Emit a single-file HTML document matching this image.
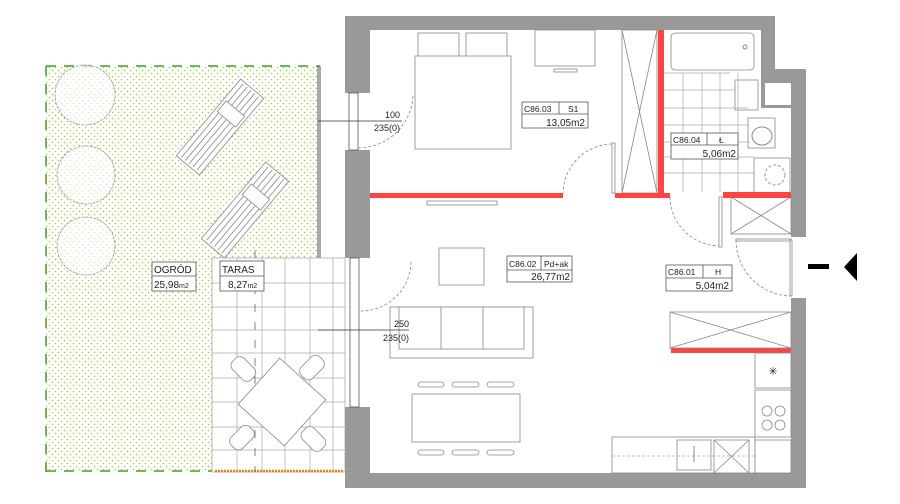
<!DOCTYPE html>
<html><head><meta charset="utf-8"><style>
html,body{margin:0;padding:0;background:#fff;width:900px;height:504px;overflow:hidden}
svg{display:block}
text{font-family:"Liberation Sans",sans-serif;fill:#222}
</style></head><body>
<svg width="900" height="504" viewBox="0 0 900 504" xmlns="http://www.w3.org/2000/svg">
<defs>
<pattern id="dots" width="6" height="6" patternUnits="userSpaceOnUse">
<circle cx="1.5" cy="1.5" r="0.8" fill="#9cc75a"/><circle cx="4.5" cy="4.5" r="0.8" fill="#9cc75a"/>
</pattern>
</defs>
<!-- garden -->
<rect x="46" y="66" width="272" height="406" fill="url(#dots)"/>
<rect x="318" y="66" width="27" height="192" fill="#fff"/>
<line x1="46" y1="66" x2="320" y2="66" stroke="#4a9a2a" stroke-width="1.5" stroke-dasharray="10,8"/>
<line x1="46" y1="66" x2="46" y2="472" stroke="#4a9a2a" stroke-width="1.5" stroke-dasharray="10,8"/>
<line x1="46" y1="471" x2="212" y2="471" stroke="#4a9a2a" stroke-width="1.5" stroke-dasharray="10,8"/>
<line x1="318" y1="66" x2="318" y2="258" stroke="#555" stroke-width="1"/>
<line x1="320" y1="66" x2="320" y2="258" stroke="#555" stroke-width="1"/>
<!-- trees -->
<g fill="#fff" fill-opacity="0.6" stroke="#999" stroke-width="0.8" stroke-dasharray="3,1">
<circle cx="85" cy="95" r="30"/><circle cx="86" cy="175" r="29"/><circle cx="86" cy="246" r="29"/>
</g>
<!-- loungers -->
<g fill="#fff" stroke="#888" stroke-width="0.8">
<g transform="translate(220,127) rotate(-50)"><rect x="-50" y="-15" width="100" height="30"/><line x1="-48" y1="-10" x2="48" y2="-10"/><line x1="-48" y1="-5" x2="48" y2="-5"/><line x1="-48" y1="0" x2="48" y2="0"/><line x1="-48" y1="5" x2="48" y2="5"/><line x1="-48" y1="10" x2="48" y2="10"/><rect x="10" y="-12" width="14" height="24"/></g>
<g transform="translate(245,210) rotate(-50)"><rect x="-50" y="-15" width="100" height="30"/><line x1="-48" y1="-10" x2="48" y2="-10"/><line x1="-48" y1="-5" x2="48" y2="-5"/><line x1="-48" y1="0" x2="48" y2="0"/><line x1="-48" y1="5" x2="48" y2="5"/><line x1="-48" y1="10" x2="48" y2="10"/><rect x="10" y="-12" width="14" height="24"/></g>
</g>
<!-- terrace -->
<rect x="212" y="258" width="133" height="214" fill="#fff" stroke="#aaa" stroke-width="0.8"/>
<g stroke="#aaa" stroke-width="0.7">
<line x1="237" y1="258" x2="237" y2="472"/><line x1="262" y1="258" x2="262" y2="472"/><line x1="285" y1="258" x2="285" y2="472"/><line x1="310" y1="258" x2="310" y2="472"/><line x1="333" y1="258" x2="333" y2="472"/>
<line x1="212" y1="283" x2="345" y2="283"/><line x1="212" y1="307" x2="345" y2="307"/><line x1="212" y1="330" x2="345" y2="330"/><line x1="212" y1="353" x2="345" y2="353"/><line x1="212" y1="378" x2="345" y2="378"/><line x1="212" y1="402" x2="345" y2="402"/><line x1="212" y1="427" x2="345" y2="427"/><line x1="212" y1="450" x2="345" y2="450"/>
</g>
<line x1="215" y1="471" x2="343" y2="471" stroke="#d98a1a" stroke-width="2.5" stroke-dasharray="2,1"/>
<line x1="255" y1="250" x2="255" y2="472" stroke="#666" stroke-width="0.8" stroke-dasharray="8,10"/>
<!-- terrace table -->
<g fill="#fff" stroke="#888" stroke-width="0.8">
<rect x="230" y="360" width="26" height="16" rx="6" transform="rotate(45 242 369)"/>
<rect x="300" y="360" width="26" height="16" rx="6" transform="rotate(-45 312 369)"/>
<rect x="230" y="430" width="26" height="16" rx="6" transform="rotate(-45 242 439)"/>
<rect x="300" y="430" width="26" height="16" rx="6" transform="rotate(45 312 439)"/>
<rect x="251" y="371" width="62" height="62" transform="rotate(42 282 402)"/>
</g>
<!-- labels garden -->
<g fill="#fff" stroke="#555" stroke-width="0.8"><rect x="152" y="262" width="44" height="29"/><line x1="152" y1="276" x2="196" y2="276"/>
<rect x="220" y="261" width="44" height="30"/><line x1="220" y1="276" x2="264" y2="276"/></g>
<text x="154" y="273" font-size="10">OGRÓD</text><text x="154" y="288" font-size="10">25,98<tspan font-size="7">m2</tspan></text>
<text x="222" y="273" font-size="10">TARAS</text><text x="228" y="288" font-size="10">8,27<tspan font-size="7">m2</tspan></text>
<!-- walls -->
<g fill="#999">
<rect x="345" y="16" width="430" height="14"/>
<rect x="345" y="16" width="25" height="77"/>
<rect x="345" y="150" width="25" height="108"/>
<rect x="345" y="407" width="25" height="81"/>
<rect x="345" y="473" width="461" height="15"/>
<rect x="761" y="16" width="14" height="53"/>
<rect x="761" y="69" width="45" height="14"/>
<rect x="761" y="69" width="4" height="39"/>
<rect x="761" y="105" width="30" height="3"/>
<rect x="791" y="69" width="15" height="168"/>
<rect x="791" y="298" width="15" height="190"/>
</g>
<!-- windows -->
<g fill="#fff" stroke="#555" stroke-width="0.8">
<rect x="349" y="93" width="9" height="57"/><rect x="350" y="258" width="9" height="149"/>
</g>
<g fill="none" stroke="#888" stroke-width="0.8" stroke-dasharray="3,2">
<path d="M413 96 A 55 55 0 0 1 358 148"/>
<path d="M411 262 A 50 50 0 0 1 361 311"/>
<path d="M612 144 A 50 50 0 0 0 563 194"/>
<path d="M670 197 A 50 50 0 0 0 720 246"/>
<path d="M736 240 A 56 56 0 0 0 792 296"/>
</g>
<!-- furniture bedroom -->
<g fill="#fff" stroke="#888" stroke-width="0.8">
<rect x="418" y="33" width="41" height="25"/><rect x="466" y="33" width="41" height="25"/>
<rect x="415" y="56" width="96" height="93"/>
<rect x="535" y="30" width="60" height="36"/><rect x="554" y="69" width="23" height="3"/>
<rect x="427" y="201" width="70" height="4"/>
<rect x="622" y="30" width="35" height="163"/>
<line x1="622" y1="30" x2="657" y2="193"/><line x1="657" y1="30" x2="622" y2="193"/>
<rect x="612" y="143" width="3" height="50"/>
<rect x="671" y="33" width="83" height="37" rx="4"/>
<rect x="735" y="80" width="23" height="30"/>
<rect x="748" y="118" width="27" height="30"/>
<rect x="754" y="158" width="36" height="35"/>
<rect x="719" y="197" width="3" height="50"/>
<rect x="731" y="197" width="60" height="37"/>
<line x1="731" y1="197" x2="791" y2="234"/><line x1="791" y1="197" x2="731" y2="234"/>
<rect x="736" y="239" width="55" height="2"/>
<rect x="790" y="240" width="2" height="56"/>
</g>
<circle cx="745" cy="47" r="2" fill="none" stroke="#888"/>
<ellipse cx="762" cy="136" rx="10" ry="9" fill="none" stroke="#888"/>
<circle cx="775" cy="175" r="10" fill="none" stroke="#999" stroke-dasharray="3,2"/>
<!-- bathroom tiles -->
<g stroke="#aaa" stroke-width="0.7">
<line x1="683" y1="73" x2="683" y2="192"/><line x1="702" y1="73" x2="702" y2="192"/><line x1="720" y1="73" x2="720" y2="192"/><line x1="738" y1="73" x2="738" y2="192"/>
<line x1="663" y1="73" x2="730" y2="73"/><line x1="663" y1="90" x2="735" y2="90"/><line x1="663" y1="108" x2="748" y2="108"/><line x1="663" y1="125" x2="748" y2="125"/><line x1="663" y1="142" x2="750" y2="142"/><line x1="663" y1="157" x2="754" y2="157"/><line x1="663" y1="173" x2="754" y2="173"/>
</g>
<!-- red walls -->
<g fill="#f44">
<rect x="370" y="193" width="193" height="5"/>
<rect x="615" y="193" width="55" height="5"/>
<rect x="658" y="30" width="6" height="167"/>
<rect x="723" y="192" width="68" height="6"/>
<rect x="671" y="348" width="120" height="5"/>
</g>
<!-- living -->
<g fill="#fff" stroke="#888" stroke-width="0.8">
<rect x="439" y="248" width="45" height="37"/>
<rect x="390" y="307" width="143" height="51"/>
<rect x="399" y="307" width="125" height="42"/><line x1="441" y1="307" x2="441" y2="349"/><line x1="483" y1="307" x2="483" y2="349"/>
<rect x="418" y="382" width="26" height="5" rx="2.5"/><rect x="452" y="382" width="27" height="5" rx="2.5"/><rect x="487" y="382" width="27" height="5" rx="2.5"/>
<rect x="412" y="394" width="108" height="48"/>
<rect x="418" y="450" width="26" height="5" rx="2.5"/><rect x="452" y="450" width="27" height="5" rx="2.5"/><rect x="487" y="450" width="27" height="5" rx="2.5"/>
<!-- kitchen -->
<rect x="670" y="312" width="121" height="36"/>
<line x1="670" y1="312" x2="791" y2="348"/><line x1="791" y1="312" x2="670" y2="348"/>
<rect x="755" y="353" width="36" height="35"/>
<rect x="755" y="390" width="36" height="47"/>
<rect x="612" y="437" width="143" height="36"/>
<rect x="677" y="440" width="34" height="30"/>
<rect x="714" y="440" width="35" height="33"/>
<line x1="714" y1="440" x2="749" y2="473"/><line x1="749" y1="440" x2="714" y2="473"/>
<rect x="755" y="440" width="36" height="33"/>
<circle cx="767" cy="411" r="5"/><circle cx="780" cy="411" r="5"/><circle cx="767" cy="425" r="5"/><circle cx="780" cy="425" r="5"/>
</g>
<line x1="612" y1="456" x2="755" y2="456" stroke="#aaa" stroke-dasharray="3,2" stroke-width="0.7"/>
<line x1="694" y1="446" x2="694" y2="462" stroke="#888"/>
<text x="773" y="375" font-size="11" text-anchor="middle" fill="#888">✳</text>
<!-- dimension texts -->
<line x1="318" y1="121" x2="402" y2="121" stroke="#333" stroke-width="0.8"/>
<line x1="318" y1="330" x2="409" y2="330" stroke="#333" stroke-width="0.8"/>
<text x="400" y="118" font-size="9" text-anchor="end">100</text><text x="400" y="131" font-size="9" text-anchor="end">235(0)</text>
<text x="409" y="327" font-size="9" text-anchor="end">250</text><text x="409" y="341" font-size="9" text-anchor="end">235(0)</text>
<!-- labels -->
<g fill="#fff" stroke="#555" stroke-width="0.8">
<rect x="522" y="102" width="66" height="26"/><line x1="522" y1="114" x2="588" y2="114"/><line x1="559" y1="102" x2="559" y2="114"/>
<rect x="671" y="133" width="67" height="26"/><line x1="671" y1="145" x2="738" y2="145"/><line x1="707" y1="133" x2="707" y2="145"/>
<rect x="507" y="256" width="65" height="26"/><line x1="507" y1="270" x2="572" y2="270"/><line x1="541" y1="256" x2="541" y2="270"/>
<rect x="666" y="265" width="66" height="26"/><line x1="666" y1="278" x2="732" y2="278"/><line x1="703" y1="265" x2="703" y2="278"/>
</g>
<text x="524" y="112" font-size="8.5">C86.03</text><text x="568" y="112" font-size="8.5">S1</text><text x="585" y="126" font-size="10" text-anchor="end">13,05m2</text>
<text x="673" y="143" font-size="8.5">C86.04</text><text x="719" y="143" font-size="8.5">Ł</text><text x="736" y="157" font-size="10" text-anchor="end">5,06m2</text>
<text x="509" y="267" font-size="8.5">C86.02</text><text x="544" y="267" font-size="8.5">Pd+ak</text><text x="570" y="280" font-size="10" text-anchor="end">26,77m2</text>
<text x="668" y="275" font-size="8.5">C86.01</text><text x="715" y="275" font-size="8.5">H</text><text x="729" y="289" font-size="10" text-anchor="end">5,04m2</text>
<!-- entry arrow -->
<rect x="808" y="264" width="21" height="5" fill="#000"/>
<polygon points="844,267 857,253 857,281" fill="#000"/>
</svg>
</body></html>
